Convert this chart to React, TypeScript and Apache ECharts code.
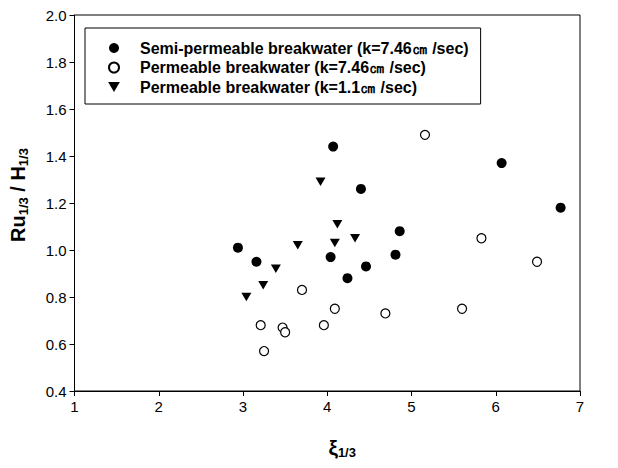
import React, { useEffect, useRef } from "react";
import * as echarts from "echarts";

const FONT = "Arial, 'Liberation Sans', Helvetica, sans-serif";

const seriesNames = [
  "Semi-permeable breakwater (k=7.46㎝ /sec)",
  "Permeable breakwater (k=7.46㎝ /sec)",
  "Permeable breakwater (k=1.1㎝ /sec)",
];

// Semi-permeable breakwater (k=7.46 cm/sec): [xi_1/3, Ru_1/3 / H_1/3]
const semiPermeable: [number, number][] = [
  [2.94, 1.01],
  [3.16, 0.95],
  [4.07, 1.44],
  [4.4, 1.26],
  [4.04, 0.97],
  [4.24, 0.88],
  [4.46, 0.93],
  [4.81, 0.98],
  [4.86, 1.08],
  [6.07, 1.37],
  [6.77, 1.18],
];

// Permeable breakwater (k=7.46 cm/sec)
const permeable746: [number, number][] = [
  [5.16, 1.49],
  [5.83, 1.05],
  [6.49, 0.95],
  [3.7, 0.83],
  [4.09, 0.75],
  [4.69, 0.73],
  [5.6, 0.75],
  [3.21, 0.68],
  [3.47, 0.67],
  [3.5, 0.65],
  [3.96, 0.68],
  [3.25, 0.57],
];

// Permeable breakwater (k=1.1 cm/sec)
const permeable11: [number, number][] = [
  [3.92, 1.29],
  [4.12, 1.11],
  [4.09, 1.03],
  [4.33, 1.05],
  [3.65, 1.02],
  [3.39, 0.92],
  [3.24, 0.85],
  [3.04, 0.8],
];

const xTicks = { min: 1, max: 7, interval: 1 };
const yTicks = { min: 0.4, max: 2.0, interval: 0.2 };

const downTriangle = "path://M0,0 L10,0 L5,8.5 Z";

export default function App() {
  const ref = useRef<HTMLDivElement>(null);
  useEffect(() => {
    if (!ref.current) return;
    const chart = echarts.init(ref.current, undefined, { renderer: "svg" });
    chart.setOption({
      animation: false,
      backgroundColor: "#fff",
      textStyle: { fontFamily: FONT },
      grid: {
        left: 73,
        right: 38,
        top: 15,
        bottom: 77,
        show: true,
        borderColor: "#000",
        borderWidth: 1,
        backgroundColor: "transparent",
      },
      legend: {
        orient: "vertical",
        left: 85,
        top: 28,
        borderColor: "#000",
        borderWidth: 1,
        padding: [11, 12, 8, 23],
        itemGap: 1.5,
        itemWidth: 42,
        itemHeight: 10,
        textStyle: {
          fontFamily: FONT,
          fontWeight: "bold",
          fontSize: 16,
          lineHeight: 18,
          color: "#000",
        },
        data: seriesNames,
      },
      xAxis: {
        type: "value",
        min: xTicks.min,
        max: xTicks.max,
        interval: xTicks.interval,
        axisLine: { lineStyle: { color: "#000", width: 1 } },
        axisTick: { show: true, inside: false, length: 5, lineStyle: { color: "#000" } },
        axisLabel: { color: "#000", fontSize: 15, margin: 8, fontFamily: FONT },
        splitLine: { show: false },
        name: "{a|ξ}{s|1/3}",
        nameLocation: "middle",
        nameGap: 45,
        nameTextStyle: {
          padding: [0, 0, 0, 30],
          rich: {
            a: { fontSize: 21, fontWeight: "bold", color: "#000", fontFamily: FONT },
            s: { fontSize: 13, fontWeight: "bold", color: "#000", fontFamily: FONT, verticalAlign: "bottom", padding: [10, 0, 0, 0] },
          },
        },
      },
      yAxis: {
        type: "value",
        min: yTicks.min,
        max: yTicks.max,
        interval: yTicks.interval,
        axisLine: { show: true, lineStyle: { color: "#000", width: 1 } },
        axisTick: { show: true, inside: false, length: 5, lineStyle: { color: "#000" } },
        axisLabel: {
          color: "#000",
          fontSize: 15,
          margin: 8,
          fontFamily: FONT,
          formatter: (v: number) => v.toFixed(1),
        },
        splitLine: { show: false },
        name: "{a|Ru}{s|1/3}{a| / H}{s|1/3}",
        nameLocation: "middle",
        nameRotate: 90,
        nameGap: 45,
        nameTextStyle: {
          padding: [0, 0, 0, 16],
          rich: {
            a: { fontSize: 20, fontWeight: "bold", color: "#000", fontFamily: FONT },
            s: { fontSize: 13, fontWeight: "bold", color: "#000", fontFamily: FONT, padding: [10, 0, 0, 0] },
          },
        },
      },
      series: [
        {
          name: seriesNames[0],
          type: "scatter",
          data: semiPermeable,
          symbol: "circle",
          symbolSize: 10,
          itemStyle: { color: "#000", borderColor: "#000", borderWidth: 0, opacity: 1 },
        },
        {
          name: seriesNames[1],
          type: "scatter",
          data: permeable746,
          symbol: "circle",
          symbolSize: 9,
          itemStyle: { color: "#fff", borderColor: "#000", borderWidth: 1.2, opacity: 1 },
        },
        {
          name: seriesNames[2],
          type: "scatter",
          data: permeable11,
          symbol: downTriangle,
          symbolSize: [10, 8.5],
          itemStyle: { color: "#000", borderWidth: 0, opacity: 1 },
        },
      ],
    });
    return () => chart.dispose();
  }, []);
  return (
    <div
      ref={ref}
      style={{ position: "fixed", left: 0, top: 0, width: 618, height: 468, background: "#fff" }}
    />
  );
}
